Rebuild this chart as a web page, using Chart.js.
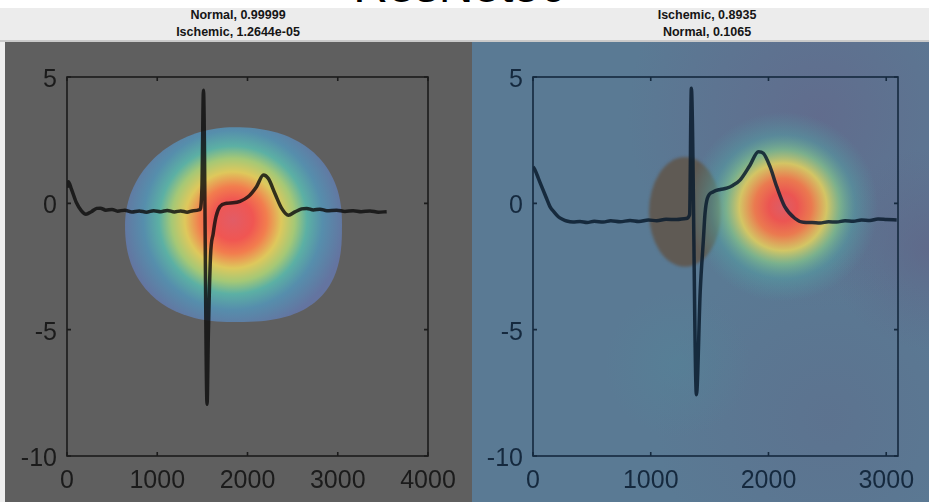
<!DOCTYPE html>
<html>
<head>
<meta charset="utf-8">
<script src="https://cdn.jsdelivr.net/npm/chart.js@4.4.0/dist/chart.umd.min.js"></script>
<style>
  body { margin: 0; width: 929px; height: 502px; overflow: hidden; background: #fff; position: relative; font-family: "Liberation Sans", Arial, sans-serif; }
  #big { position: absolute; left: 0; width: 920px; top: -38px; text-align: center; font-size: 48px; line-height: 48px; color: #000; }
  #band { position: absolute; left: 0; top: 8px; width: 929px; height: 32px; background: #ececec; border-bottom: 2px solid #cacaca; }
  .ttl { position: absolute; top: 7px; width: 240px; font-weight: bold; font-size: 12.5px; line-height: 17px; text-align: center; color: #151515; }
  #edge { position: absolute; left: 0; top: 42px; width: 5px; height: 460px; background: #eeeeee; }
  canvas { position: absolute; top: 42px; }
</style>
</head>
<body>
<div id="big">ResNet50</div>
<div id="band"></div>
<div class="ttl" style="left:118px">Normal, 0.99999<br>Ischemic, 1.2644e-05</div>
<div class="ttl" style="left:587px">Ischemic, 0.8935<br>Normal, 0.1065</div>
<div id="edge"></div>
<canvas id="leftChart" width="468" height="460" style="left:5px"></canvas>
<canvas id="rightChart" width="457" height="460" style="left:472px"></canvas>
<script>
// ECG beat on the left (sample index, mV)
const leftTime = [0, 15, 50, 105, 160, 210, 270, 330, 370, 430, 500, 560, 640, 720, 800, 880, 960, 1040, 1110, 1190, 1260, 1330, 1400, 1470, 1495, 1512, 1552, 1566, 1590, 1620, 1651, 1695, 1770, 1840, 1917, 2010, 2100, 2176, 2231, 2305, 2379, 2453, 2526, 2600, 2656, 2730, 2803, 2880, 2988, 3080, 3172, 3260, 3357, 3450, 3542];
const leftVolt = [0.62, 0.85, 0.55, 0.02, -0.3, -0.43, -0.33, -0.2, -0.19, -0.27, -0.24, -0.31, -0.27, -0.34, -0.3, -0.35, -0.29, -0.33, -0.28, -0.34, -0.3, -0.35, -0.29, -0.25, 0.6, 4.48, -7.95, -5.2, -2.1, -1.19, -0.53, -0.13, 0.0, 0.02, 0.08, 0.27, 0.66, 1.12, 0.98, 0.38, -0.2, -0.47, -0.34, -0.22, -0.2, -0.26, -0.23, -0.29, -0.27, -0.32, -0.29, -0.33, -0.3, -0.35, -0.33];

// ECG beat on the right
const rightTime = [0, 17, 45, 74, 110, 144, 180, 215, 250, 286, 340, 399, 460, 520, 597, 660, 740, 824, 900, 980, 1051, 1130, 1220, 1300, 1330, 1345, 1388, 1420, 1447, 1461, 1481, 1532, 1590, 1645, 1700, 1758, 1843, 1914, 1956, 2013, 2070, 2138, 2223, 2296, 2370, 2437, 2510, 2579, 2650, 2720, 2790, 2862, 2930, 3004, 3089];
const rightVolt = [1.45, 1.32, 1.0, 0.66, 0.25, -0.13, -0.35, -0.53, -0.63, -0.7, -0.74, -0.72, -0.76, -0.71, -0.74, -0.69, -0.73, -0.68, -0.72, -0.66, -0.69, -0.63, -0.64, -0.6, -0.45, 4.55, -7.58, -3.5, -1.45, -0.4, 0.2, 0.46, 0.55, 0.6, 0.72, 0.92, 1.51, 2.04, 1.98, 1.45, 0.66, -0.13, -0.59, -0.75, -0.76, -0.78, -0.73, -0.74, -0.69, -0.71, -0.66, -0.68, -0.62, -0.64, -0.66];

const leftXTicks = [0, 1000, 2000, 3000, 4000];
const rightXTicks = [0, 1000, 2000, 3000];
const yTicks = [-10, -5, 0, 5];
const leftXMax = 4000;
const rightXMax = 3100;

// Grad-CAM regions, in data units
const leftCamX = [643, 1840, 3047];   // left edge, peak, right edge
const leftCamY = [-4.7, -0.66, 3.01]; // bottom edge, peak, top edge
const rightCamPeak = [2124, -0.14];
const rightCamReach = [807, 3.76];
const rightLowCenter = [1291, -0.34];
const rightLowReach = [306, 2.17];

const FONT = "'Liberation Sans', Arial, sans-serif";

function toPoints(xs, ys) {
  return xs.map((v, i) => ({ x: v, y: ys[i] }));
}

function makeScales(xMax, xTicks, yWidth, color) {
  return {
    x: {
      type: 'linear', min: 0, max: xMax,
      afterBuildTicks: s => { s.ticks = xTicks.map(v => ({ value: v })); },
      afterFit: s => { s.height = 46; },
      grid: { display: false, drawTicks: false },
      border: { display: false },
      ticks: { padding: 10, color: color, maxRotation: 0, autoSkip: false, font: { size: 25, family: FONT }, callback: v => String(v) }
    },
    y: {
      type: 'linear', min: -10, max: 5,
      afterBuildTicks: s => { s.ticks = yTicks.map(v => ({ value: v })); },
      afterFit: s => { s.width = yWidth; },
      grid: { display: false, drawTicks: false },
      border: { display: false },
      ticks: { padding: 10, labelOffset: 3, color: color, autoSkip: false, font: { size: 25, family: FONT }, callback: v => String(v) }
    }
  };
}

// box round the axes with short inward ticks, matlab style
const framePlugin = {
  id: 'frame',
  afterDatasetsDraw(chart, args, opts) {
    const { ctx, chartArea: a, scales: { x, y } } = chart;
    ctx.save();
    ctx.strokeStyle = opts.color;
    ctx.lineWidth = 1.6;
    ctx.strokeRect(a.left, a.top, a.right - a.left, a.bottom - a.top);
    ctx.beginPath();
    x.ticks.forEach(t => {
      const p = x.getPixelForValue(t.value);
      ctx.moveTo(p, a.bottom); ctx.lineTo(p, a.bottom - 4);
      ctx.moveTo(p, a.top); ctx.lineTo(p, a.top + 4);
    });
    y.ticks.forEach(t => {
      const p = y.getPixelForValue(t.value);
      ctx.moveTo(a.left, p); ctx.lineTo(a.left + 4, p);
      ctx.moveTo(a.right, p); ctx.lineTo(a.right - 4, p);
    });
    ctx.stroke();
    ctx.restore();
  }
};

const leftCamPlugin = {
  id: 'leftCam',
  beforeDraw(chart) {
    const ctx = chart.ctx;
    ctx.save();
    ctx.fillStyle = '#5f5f5f';
    ctx.fillRect(0, 0, chart.width, chart.height);
    ctx.restore();
  },
  beforeDatasetsDraw(chart) {
    const { ctx, scales: { x, y } } = chart;
    const l = x.getPixelForValue(leftCamX[0]), cx = x.getPixelForValue(leftCamX[1]), r = x.getPixelForValue(leftCamX[2]);
    const b = y.getPixelForValue(leftCamY[0]), cy = y.getPixelForValue(leftCamY[1]), t = y.getPixelForValue(leftCamY[2]);
    const mx = (l + r) / 2, my = (t + b) / 2, hx = (r - l) / 2, hy = (b - t) / 2;
    ctx.save();
    ctx.beginPath();
    for (let i = 0; i <= 160; i++) {
      const ang = i / 160 * Math.PI * 2;
      const c = Math.cos(ang), s = Math.sin(ang);
      // fuller towards the lower right, rounder at the upper left
      const n = (c > 0 && s > 0) ? 2.7 : (c < 0 && s < 0) ? 2.0 : 2.3;
      const px = mx + hx * Math.sign(c) * Math.pow(Math.abs(c), 2 / n);
      const py = my + hy * Math.sign(s) * Math.pow(Math.abs(s), 2 / n);
      if (i) ctx.lineTo(px, py); else ctx.moveTo(px, py);
    }
    ctx.closePath();
    const R = 112;
    const g = ctx.createRadialGradient(cx, cy, 0, cx, cy, R);
    g.addColorStop(0, 'rgb(226,92,102)');
    g.addColorStop(0.18, 'rgb(240,86,82)');
    g.addColorStop(0.3, 'rgb(242,125,78)');
    g.addColorStop(0.43, 'rgb(222,200,92)');
    g.addColorStop(0.55, 'rgb(165,200,118)');
    g.addColorStop(0.66, 'rgb(92,176,164)');
    g.addColorStop(0.8, 'rgb(86,142,172)');
    g.addColorStop(1, 'rgb(100,116,160)');
    ctx.fillStyle = g;
    ctx.fill();
    ctx.restore();
  }
};

const rightCamPlugin = {
  id: 'rightCam',
  beforeDraw(chart) {
    const { ctx, width, height } = chart;
    ctx.save();
    ctx.fillStyle = 'rgb(90,122,148)';
    ctx.fillRect(0, 0, width, height);
    const spots = [
      [0.76, 0.16, 0.42, [98, 106, 140], 0.85],
      [1.0, 0.45, 0.22, [96, 102, 136], 0.8],
      [0.78, 0.82, 0.38, [94, 110, 140], 0.6],
      [0.45, 0.7, 0.16, [84, 132, 152], 0.5]
    ];
    spots.forEach(([fx, fy, fr, c, al]) => {
      const X = fx * width, Y = fy * height, Rr = fr * width;
      const g = ctx.createRadialGradient(X, Y, 0, X, Y, Rr);
      g.addColorStop(0, `rgba(${c[0]},${c[1]},${c[2]},${al})`);
      g.addColorStop(1, `rgba(${c[0]},${c[1]},${c[2]},0)`);
      ctx.fillStyle = g;
      ctx.fillRect(0, 0, width, height);
    });
    ctx.restore();
  },
  beforeDatasetsDraw(chart) {
    const { ctx, scales: { x, y } } = chart;
    // low-activation patch round the QRS
    const lx = x.getPixelForValue(rightLowCenter[0]), ly = y.getPixelForValue(rightLowCenter[1]);
    const lrx = x.getPixelForValue(rightLowCenter[0] + rightLowReach[0]) - lx;
    const lry = ly - y.getPixelForValue(rightLowCenter[1] + rightLowReach[1]);
    ctx.save();
    ctx.filter = 'blur(1.5px)';
    ctx.fillStyle = 'rgb(95,90,84)';
    ctx.beginPath();
    ctx.ellipse(lx, ly, lrx, lry, 0, 0, Math.PI * 2);
    ctx.fill();
    ctx.restore();

    // hot spot on the T wave
    const cx = x.getPixelForValue(rightCamPeak[0]), cy = y.getPixelForValue(rightCamPeak[1]);
    const rx = x.getPixelForValue(rightCamPeak[0] + rightCamReach[0]) - cx;
    const ry = cy - y.getPixelForValue(rightCamPeak[1] + rightCamReach[1]);
    ctx.save();
    ctx.translate(cx, cy);
    ctx.scale(1, ry / rx);
    const g = ctx.createRadialGradient(0, 0, 0, 0, 0, rx);
    g.addColorStop(0, 'rgba(224,92,102,0.97)');
    g.addColorStop(0.15, 'rgba(240,84,80,0.97)');
    g.addColorStop(0.3, 'rgba(242,122,76,0.95)');
    g.addColorStop(0.46, 'rgba(224,206,96,0.9)');
    g.addColorStop(0.6, 'rgba(132,196,140,0.75)');
    g.addColorStop(0.76, 'rgba(82,170,168,0.42)');
    g.addColorStop(1, 'rgba(82,160,168,0)');
    ctx.fillStyle = g;
    ctx.fillRect(-rx, -rx, rx * 2, rx * 2);
    ctx.restore();
  }
};

function makeChart(id, time, volt, xMax, xTicks, yWidth, padRight, tickColor, lineColor, camPlugin) {
  return new Chart(document.getElementById(id), {
    type: 'line',
    data: {
      datasets: [{
        data: toPoints(time, volt),
        borderColor: lineColor,
        borderWidth: 3.5,
        pointRadius: 0,
        cubicInterpolationMode: 'monotone',
        fill: false
      }]
    },
    options: {
      responsive: false,
      animation: false,
      events: [],
      layout: { padding: { top: 35, right: padRight, left: 0, bottom: 0 } },
      scales: makeScales(xMax, xTicks, yWidth, tickColor),
      plugins: {
        legend: { display: false },
        tooltip: { enabled: false },
        frame: { color: tickColor }
      }
    },
    plugins: [camPlugin, framePlugin]
  });
}

makeChart('leftChart', leftTime, leftVolt, leftXMax, leftXTicks, 62, 45, '#1b1b1b', 'rgba(14,14,14,0.82)', leftCamPlugin);
makeChart('rightChart', rightTime, rightVolt, rightXMax, rightXTicks, 61, 31, '#15293e', 'rgba(10,28,46,0.85)', rightCamPlugin);
</script>
</body>
</html>
